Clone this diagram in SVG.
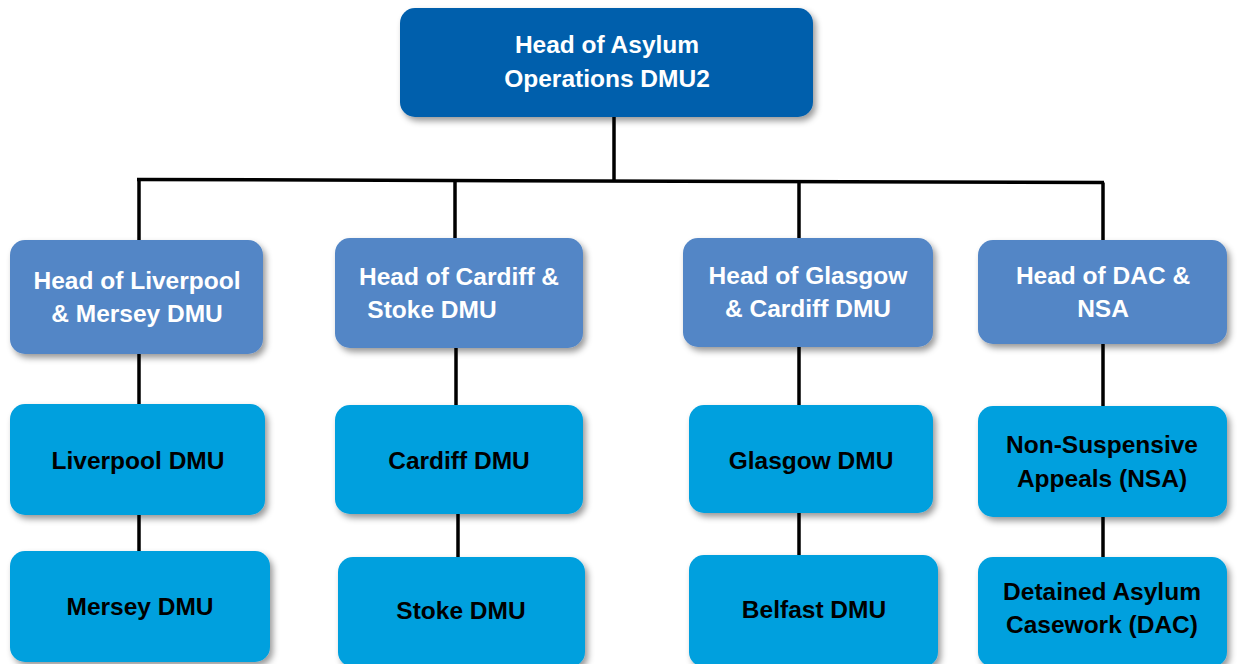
<svg xmlns="http://www.w3.org/2000/svg" width="1237" height="664" viewBox="0 0 1237 664">
<defs>
<filter id="sh" x="-10%" y="-10%" width="125%" height="130%">
<feDropShadow dx="3" dy="4" stdDeviation="3" flood-color="#000" flood-opacity="0.4"/>
</filter>
<style>
.top{fill:#035FAC;filter:url(#sh)}
.mid{fill:#5386C6;filter:url(#sh)}
.low{fill:#00A0DE;filter:url(#sh)}
text{font-family:"Liberation Sans",Arial,sans-serif;font-weight:bold;font-size:24.5px;text-anchor:middle}
.w{fill:#fff}
.b{fill:#000}
.c{stroke:#000;stroke-width:3.5;fill:none}
</style>
</defs>
<g id="connectors">
<line class="c" x1="614" y1="117" x2="614" y2="181"/>
<line class="c" x1="137" y1="179.5" x2="1104" y2="182.5"/>
<line class="c" x1="139" y1="179.5" x2="139" y2="242"/>
<line class="c" x1="455" y1="180.5" x2="455" y2="240"/>
<line class="c" x1="799" y1="181.5" x2="799" y2="240"/>
<line class="c" x1="1103" y1="182.5" x2="1103" y2="242"/>
<line class="c" x1="139" y1="354" x2="139" y2="406"/>
<line class="c" x1="456" y1="348" x2="456" y2="407"/>
<line class="c" x1="799" y1="347" x2="799" y2="407"/>
<line class="c" x1="1103" y1="344" x2="1103" y2="408"/>
<line class="c" x1="139" y1="515" x2="139" y2="553"/>
<line class="c" x1="458" y1="514" x2="458" y2="558"/>
<line class="c" x1="799" y1="513" x2="799" y2="557"/>
<line class="c" x1="1103" y1="517" x2="1103" y2="558"/>
</g>
<g id="n_head">
<rect class="top" x="400" y="8" width="413" height="109" rx="15"/>
<text class="w" x="607" y="53">Head of Asylum</text>
<text class="w" x="607" y="87">Operations DMU2</text>
</g>
<g id="n_liv_head">
<rect class="mid" x="10" y="240" width="253" height="114" rx="15"/>
<text class="w" x="137" y="289">Head of Liverpool</text>
<text class="w" x="137" y="322">&amp; Mersey DMU</text>
</g>
<g id="n_car_head">
<rect class="mid" x="335" y="238" width="248" height="110" rx="15"/>
<text class="w" x="459" y="285">Head of Cardiff &amp;</text>
<text class="w" x="432" y="318">Stoke DMU</text>
</g>
<g id="n_gla_head">
<rect class="mid" x="683" y="238" width="250" height="109" rx="15"/>
<text class="w" x="808" y="284">Head of Glasgow</text>
<text class="w" x="808" y="317">&amp; Cardiff DMU</text>
</g>
<g id="n_dac_head">
<rect class="mid" x="978" y="240" width="249" height="104" rx="15"/>
<text class="w" x="1103" y="284">Head of DAC &amp;</text>
<text class="w" x="1103" y="317">NSA</text>
</g>
<g id="n_liverpool">
<rect class="low" x="10" y="404" width="255" height="111" rx="15"/>
<text class="b" x="138" y="469">Liverpool DMU</text>
</g>
<g id="n_cardiff">
<rect class="low" x="335" y="405" width="248" height="109" rx="15"/>
<text class="b" x="459" y="469">Cardiff DMU</text>
</g>
<g id="n_glasgow">
<rect class="low" x="689" y="405" width="244" height="108" rx="15"/>
<text class="b" x="811" y="469">Glasgow DMU</text>
</g>
<g id="n_nsa">
<rect class="low" x="978" y="406" width="249" height="111" rx="15"/>
<text class="b" x="1102" y="453">Non-Suspensive</text>
<text class="b" x="1102" y="487">Appeals (NSA)</text>
</g>
<g id="n_mersey">
<rect class="low" x="10" y="551" width="260" height="111" rx="15"/>
<text class="b" x="140" y="615">Mersey DMU</text>
</g>
<g id="n_stoke">
<rect class="low" x="338" y="557" width="247" height="110" rx="15"/>
<text class="b" x="461" y="619">Stoke DMU</text>
</g>
<g id="n_belfast">
<rect class="low" x="689" y="555" width="249" height="112" rx="15"/>
<text class="b" x="814" y="618">Belfast DMU</text>
</g>
<g id="n_dac">
<rect class="low" x="978" y="557" width="249" height="110" rx="15"/>
<text class="b" x="1102" y="600">Detained Asylum</text>
<text class="b" x="1102" y="633">Casework (DAC)</text>
</g>
</svg>
